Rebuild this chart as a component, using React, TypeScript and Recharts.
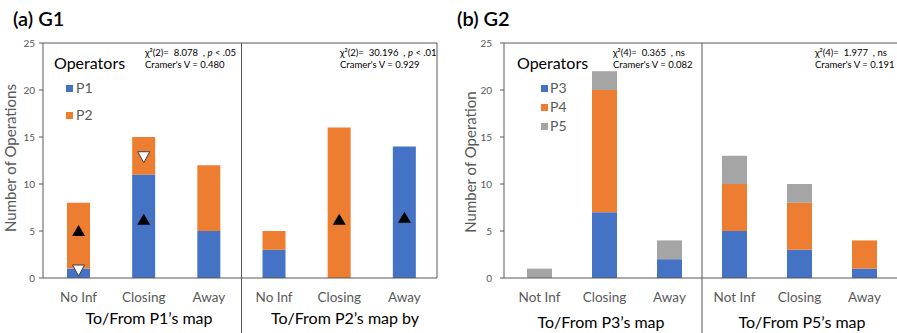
import React from 'react';
import { ComposedChart, Bar, Line, XAxis, YAxis, ReferenceLine } from 'recharts';

// ---- G1 data ----
const categoriesG1 = ['No Inf', 'Closing', 'Away', 'No Inf', 'Closing', 'Away'];
const opsP1 = [1, 11, 5, 3, 0, 14];
const opsP2 = [7, 4, 7, 2, 16, 0];
const expectedUpG1 = [5, 6.2, null, null, 6.2, 6.4];
const expectedDownG1 = [0.85, 12.9, null, null, null, null];

// ---- G2 data ----
const categoriesG2 = ['Not Inf', 'Closing', 'Away', 'Not Inf', 'Closing', 'Away'];
const opsP3 = [0, 7, 2, 5, 3, 1];
const opsP4 = [0, 13, 0, 5, 5, 3];
const opsP5 = [1, 2, 2, 3, 2, 0];

const yTicks = [0, 5, 10, 15, 20, 25];
// category slots sit at the middle of each unit on a 0..6 axis
const slotTicks = [0.5, 1.5, 2.5, 3.5, 4.5, 5.5];

const BLUE = '#4472C4';
const ORANGE = '#ED7D31';
const GRAY = '#A5A5A5';
const AXIS = '#595959';
const FONT = 'Lato, "Open Sans", sans-serif';

const dataG1 = categoriesG1.map((cat, i) => ({
  pos: slotTicks[i],
  cat,
  P1: opsP1[i],
  P2: opsP2[i],
  up: expectedUpG1[i],
  down: expectedDownG1[i],
}));

const dataG2 = categoriesG2.map((cat, i) => ({
  pos: slotTicks[i],
  cat,
  P3: opsP3[i],
  P4: opsP4[i],
  P5: opsP5[i],
}));

const UpTriangle = (props: any) => {
  const { cx, cy, value, index } = props;
  if (value == null || cy == null || isNaN(cy)) return <g key={`u${index}`} />;
  return (
    <path
      key={`u${index}`}
      d={`M${cx},${cy - 6} L${cx + 6.5},${cy + 5} L${cx - 6.5},${cy + 5} Z`}
      fill="#000"
    />
  );
};

const DownTriangle = (props: any) => {
  const { cx, cy, value, index } = props;
  if (value == null || cy == null || isNaN(cy)) return <g key={`d${index}`} />;
  return (
    <path
      key={`d${index}`}
      d={`M${cx - 6},${cy - 5} L${cx + 6},${cy - 5} L${cx},${cy + 6} Z`}
      fill="#fff"
      stroke="#404040"
      strokeWidth={1}
    />
  );
};

const abs = (left: number, top: number, extra: React.CSSProperties = {}): React.CSSProperties => ({
  position: 'absolute',
  left,
  top,
  whiteSpace: 'pre',
  fontFamily: FONT,
  lineHeight: 1,
  ...extra,
});

const Centered = ({ x, y, size, color = '#000', weight = 400, children }: any) => (
  <div style={abs(x, y, { transform: 'translate(-50%, -50%)', fontSize: size, color, fontWeight: weight })}>
    {children}
  </div>
);

const LeftMid = ({ x, y, size, color = '#000', weight = 400, children }: any) => (
  <div style={abs(x, y, { transform: 'translate(0, -50%)', fontSize: size, color, fontWeight: weight })}>
    {children}
  </div>
);

const Vertical = ({ x, y, size, children }: any) => (
  <div style={abs(x, y, { transform: 'translate(-50%, -50%) rotate(-90deg)', fontSize: size, color: AXIS })}>
    {children}
  </div>
);

const Swatch = ({ x, y, color }: any) => (
  <div style={{ position: 'absolute', left: x, top: y - 3.5, width: 7, height: 7, background: color }} />
);

const Stats = ({ x, y, df, chi, p, v }: any) => (
  <>
    <LeftMid x={x} y={y} size={9.5}>
      {`χ²(${df})=  ${chi}  , `}
      {p === 'ns' ? 'ns' : <><i>p</i>{p}</>}
    </LeftMid>
    <LeftMid x={x} y={y + 12} size={9.5}>
      {`Cramer's V = ${v}`}
    </LeftMid>
  </>
);

const tickStyleX = { fill: AXIS, fontSize: 13.5, fontFamily: FONT };
const tickStyleY = { fill: AXIS, fontSize: 10, fontFamily: FONT };

const slotLabel = (cats: string[]) => (v: number) => cats[Math.floor(v)] ?? '';

export default function App() {
  return (
    <div style={{ position: 'absolute', left: 0, top: 0, width: 897, height: 333, background: '#fff', overflow: 'hidden' }}>
      {/* (a) G1 */}
      <div style={{ position: 'absolute', left: 0, top: 0 }}>
        <ComposedChart width={450} height={333} data={dataG1} margin={{ top: 43, right: 13, bottom: 0, left: 0 }}>
          <XAxis
            dataKey="pos"
            type="number"
            domain={[0, 6]}
            allowDataOverflow
            ticks={slotTicks}
            tickFormatter={slotLabel(categoriesG1)}
            height={55}
            padding={{ left: 3, right: 0 }}
            tick={tickStyleX}
            tickLine={false}
            tickSize={0}
            tickMargin={14}
            axisLine={{ stroke: AXIS }}
            interval={0}
          />
          <YAxis
            width={43}
            domain={[0, 25]}
            ticks={yTicks}
            tick={tickStyleY}
            tickSize={4}
            tickMargin={4}
            axisLine={{ stroke: AXIS }}
            tickLine={{ stroke: AXIS }}
          />
          <ReferenceLine y={25} stroke={AXIS} />
          <ReferenceLine x={6} stroke={AXIS} ifOverflow="visible" />
          <ReferenceLine
            segment={[{ x: 3, y: 25 }, { x: 3, y: -6 }]}
            stroke={AXIS}
            ifOverflow="visible"
          />
          <Bar dataKey="P1" stackId="s" fill={BLUE} barSize={23} isAnimationActive={false} />
          <Bar dataKey="P2" stackId="s" fill={ORANGE} barSize={23} isAnimationActive={false} />
          <Line dataKey="up" stroke="none" dot={UpTriangle} activeDot={false} isAnimationActive={false} />
          <Line dataKey="down" stroke="none" dot={DownTriangle} activeDot={false} isAnimationActive={false} />
        </ComposedChart>
      </div>

      {/* (b) G2 */}
      <div style={{ position: 'absolute', left: 450, top: 0 }}>
        <ComposedChart width={447} height={333} data={dataG2} margin={{ top: 43, right: 0, bottom: 0, left: 0 }}>
          <XAxis
            dataKey="pos"
            type="number"
            domain={[0, 6]}
            allowDataOverflow
            ticks={slotTicks}
            tickFormatter={slotLabel(categoriesG2)}
            height={55}
            padding={{ left: 3, right: 0 }}
            tick={tickStyleX}
            tickLine={false}
            tickSize={0}
            tickMargin={14}
            axisLine={{ stroke: AXIS }}
            interval={0}
          />
          <YAxis
            width={54}
            domain={[0, 25]}
            ticks={yTicks}
            tick={tickStyleY}
            tickSize={4}
            tickMargin={8}
            axisLine={{ stroke: AXIS }}
            tickLine={{ stroke: AXIS }}
          />
          <ReferenceLine y={25} stroke={AXIS} />
          <ReferenceLine
            segment={[{ x: 3, y: 25 }, { x: 3, y: -6 }]}
            stroke={AXIS}
            ifOverflow="visible"
          />
          <Bar dataKey="P3" stackId="s" fill={BLUE} barSize={25} isAnimationActive={false} />
          <Bar dataKey="P4" stackId="s" fill={ORANGE} barSize={25} isAnimationActive={false} />
          <Bar dataKey="P5" stackId="s" fill={GRAY} barSize={25} isAnimationActive={false} />
        </ComposedChart>
      </div>

      {/* Panel titles */}
      <LeftMid x={13} y={18} size={20} weight={600}>(a) G1</LeftMid>
      <LeftMid x={457} y={18} size={20} weight={600}>(b) G2</LeftMid>

      {/* Axis titles */}
      <Vertical x={10} y={158} size={15}>Number of Operations</Vertical>
      <Vertical x={470} y={162} size={15}>Number of Operation</Vertical>

      <Centered x={149} y={318} size={16}>To/From P1’s map</Centered>
      <Centered x={345} y={318} size={16}>To/From P2’s map by</Centered>
      <Centered x={601} y={322} size={16}>To/From P3’s map</Centered>
      <Centered x={802} y={322} size={16}>To/From P5’s map</Centered>

      {/* Legends */}
      <LeftMid x={54} y={63} size={16}>Operators</LeftMid>
      <Swatch x={66} y={88} color={BLUE} />
      <LeftMid x={76} y={88} size={14} color={AXIS}>P1</LeftMid>
      <Swatch x={66} y={115} color={ORANGE} />
      <LeftMid x={76} y={115} size={14} color={AXIS}>P2</LeftMid>

      <LeftMid x={517} y={63} size={16}>Operators</LeftMid>
      <Swatch x={541} y={88} color={BLUE} />
      <LeftMid x={550} y={88} size={14} color={AXIS}>P3</LeftMid>
      <Swatch x={541} y={107} color={ORANGE} />
      <LeftMid x={550} y={107} size={14} color={AXIS}>P4</LeftMid>
      <Swatch x={541} y={126} color={GRAY} />
      <LeftMid x={550} y={126} size={14} color={AXIS}>P5</LeftMid>

      {/* Test statistics */}
      <Stats x={145} y={53} df={2} chi="8.078" p=" < .05" v="0.480" />
      <Stats x={340} y={53} df={2} chi="30.196" p=" < .01" v="0.929" />
      <Stats x={613} y={53} df={4} chi="0.365" p="ns" v="0.082" />
      <Stats x={815} y={53} df={4} chi="1.977" p="ns" v="0.191" />
    </div>
  );
}
